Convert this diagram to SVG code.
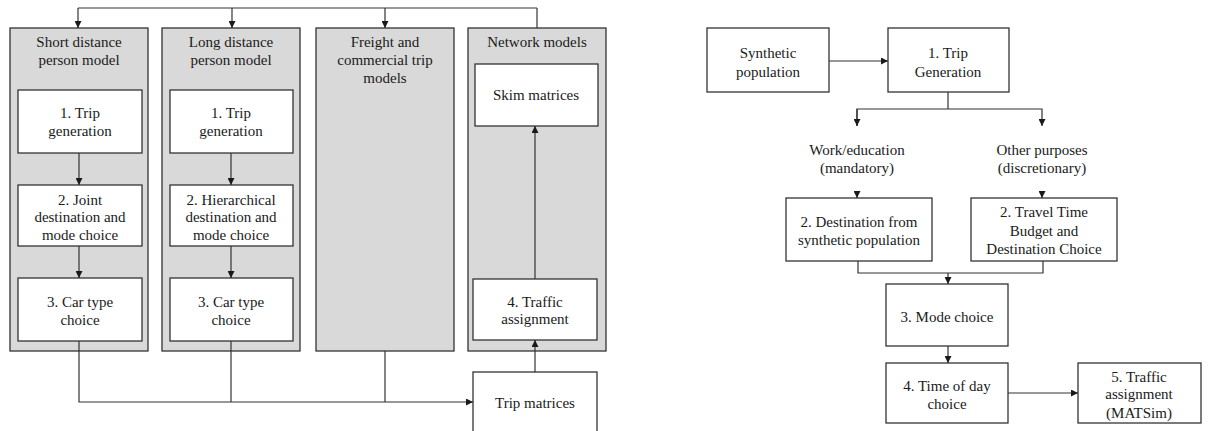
<svg xmlns="http://www.w3.org/2000/svg" width="1209" height="431" viewBox="0 0 1209 431">
<style>
.panel{fill:#d9d9d9;stroke:#333;stroke-width:1.3}
.box{fill:#fff;stroke:#333;stroke-width:1.3}
text{font-family:"Liberation Serif","Times New Roman",serif;font-size:15px;fill:#1a1a1a;text-anchor:middle}
.c{fill:none;stroke:#333;stroke-width:1.2}
</style>
<defs>
<marker id="ah" markerUnits="userSpaceOnUse" markerWidth="7" markerHeight="7" refX="7" refY="3.5" orient="auto">
<path d="M0,0 L7,3.5 L0,7 z" fill="#1a1a1a"/>
</marker>
</defs>
<rect width="1209" height="431" fill="#fff"/>

<g id="panel-short">
<rect class="panel" x="10" y="28" width="138" height="323"/>
<text x="79" y="47">Short distance</text>
<text x="79" y="65">person model</text>
</g>
<g id="panel-long">
<rect class="panel" x="162" y="28" width="138" height="323"/>
<text x="231" y="47">Long distance</text>
<text x="231" y="65">person model</text>
</g>
<g id="panel-freight">
<rect class="panel" x="316" y="28" width="138" height="323"/>
<text x="385" y="47">Freight and</text>
<text x="385" y="65">commercial trip</text>
<text x="385" y="83">models</text>
</g>
<g id="panel-network">
<rect class="panel" x="468" y="28" width="138" height="323"/>
<text x="537" y="47">Network models</text>
</g>

<g id="s1"><rect class="box" x="18" y="90" width="124" height="63"/><text x="80" y="118">1. Trip</text><text x="80" y="136">generation</text></g>
<g id="s2"><rect class="box" x="18" y="185" width="124" height="61"/><text x="80" y="205">2. Joint</text><text x="80" y="222">destination and</text><text x="80" y="240">mode choice</text></g>
<g id="s3"><rect class="box" x="18" y="278" width="124" height="63"/><text x="80" y="307">3. Car type</text><text x="80" y="325">choice</text></g>

<g id="l1"><rect class="box" x="170" y="90" width="123" height="63"/><text x="231" y="118">1. Trip</text><text x="231" y="136">generation</text></g>
<g id="l2"><rect class="box" x="170" y="185" width="123" height="61"/><text x="231" y="205">2. Hierarchical</text><text x="231" y="222">destination and</text><text x="231" y="240">mode choice</text></g>
<g id="l3"><rect class="box" x="170" y="278" width="123" height="63"/><text x="231" y="307">3. Car type</text><text x="231" y="325">choice</text></g>

<g id="skim"><rect class="box" x="475" y="64" width="123" height="62"/><text x="536" y="100">Skim matrices</text></g>
<g id="assign"><rect class="box" x="473" y="279" width="124" height="61"/><text x="535" y="307">4. Traffic</text><text x="535" y="324">assignment</text></g>
<g id="tripmat"><rect class="box" x="473" y="372" width="124" height="70"/><text x="535" y="408">Trip matrices</text></g>

<g id="synpop"><rect class="box" x="707" y="28" width="122" height="64"/><text x="768" y="58">Synthetic</text><text x="768" y="77">population</text></g>
<g id="tripgen"><rect class="box" x="888" y="28" width="121" height="64"/><text x="948" y="58">1. Trip</text><text x="948" y="77">Generation</text></g>
<g id="lbl-work"><text x="857" y="155">Work/education</text><text x="857" y="173">(mandatory)</text></g>
<g id="lbl-other"><text x="1042" y="155">Other purposes</text><text x="1042" y="173">(discretionary)</text></g>
<g id="dest"><rect class="box" x="786" y="198" width="146" height="63"/><text x="859" y="227">2. Destination from</text><text x="859" y="245">synthetic population</text></g>
<g id="ttb"><rect class="box" x="971" y="198" width="146" height="63"/><text x="1044" y="217">2. Travel Time</text><text x="1044" y="236">Budget and</text><text x="1044" y="254">Destination Choice</text></g>
<g id="mode"><rect class="box" x="886" y="284" width="122" height="62"/><text x="947" y="322">3. Mode choice</text></g>
<g id="tod"><rect class="box" x="886" y="363" width="122" height="60"/><text x="947" y="391">4. Time of day</text><text x="947" y="409">choice</text></g>
<g id="matsim"><rect class="box" x="1078" y="363" width="123" height="60"/><text x="1139" y="382">5. Traffic</text><text x="1139" y="399">assignment</text><text x="1139" y="418">(MATSim)</text></g>

<g id="connectors">
<path class="c" d="M537,28 V8" stroke-width="2"/>
<path class="c" d="M537,8 H78"/>
<path class="c" d="M78,8 V28" marker-end="url(#ah)"/>
<path class="c" d="M232,8 V28" marker-end="url(#ah)"/>
<path class="c" d="M385,8 V28" marker-end="url(#ah)"/>
<path class="c" d="M79,153 V185" marker-end="url(#ah)"/>
<path class="c" d="M79,246 V278" marker-end="url(#ah)"/>
<path class="c" d="M231,153 V185" marker-end="url(#ah)"/>
<path class="c" d="M231,246 V278" marker-end="url(#ah)"/>
<path class="c" d="M79,341 V402 H473" marker-end="url(#ah)"/>
<path class="c" d="M231,341 V402"/>
<path class="c" d="M385,351 V402"/>
<path class="c" d="M535,279 V126" marker-end="url(#ah)"/>
<path class="c" d="M535,372 V340" marker-end="url(#ah)"/>

<path class="c" d="M829,61 H888" marker-end="url(#ah)"/>
<path class="c" d="M948,92 V109"/>
<path class="c" d="M857,126 V109 H1042 V126" marker-end="url(#ah)"/>
<path class="c" d="M857,109 V126" marker-end="url(#ah)"/>
<path class="c" d="M857,191 V198" marker-end="url(#ah)"/>
<path class="c" d="M1042,191 V198" marker-end="url(#ah)"/>
<path class="c" d="M858,261 V273 H1043 V261"/>
<path class="c" d="M948,273 V284" marker-end="url(#ah)"/>
<path class="c" d="M948,346 V363" marker-end="url(#ah)"/>
<path class="c" d="M1008,393 H1078" marker-end="url(#ah)"/>
</g>
</svg>
